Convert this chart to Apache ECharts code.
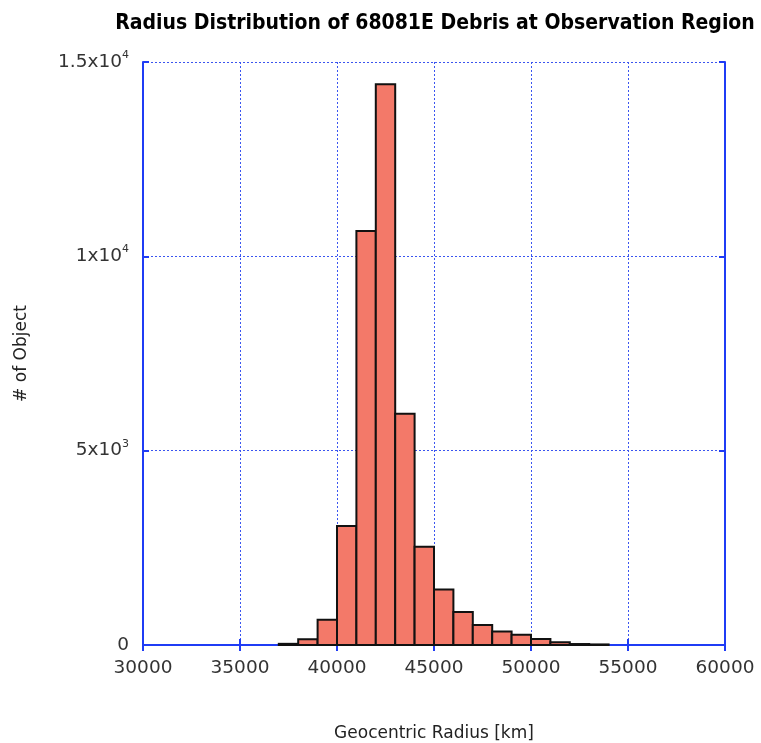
<!DOCTYPE html>
<html>
<head>
<meta charset="utf-8">
<script src="https://cdn.jsdelivr.net/npm/echarts@6/dist/echarts.min.js"></script>
<style>
  html, body { margin: 0; padding: 0; background: #ffffff; }
  #chart { width: 761px; height: 743px; }
</style>
</head>
<body>
<div id="chart"></div>
<script>
// Histogram bins (geocentric radius, km) and object counts per bin
const binStarts = [37000, 38000, 39000, 40000, 41000, 42000, 43000, 44000, 45000,
                   46000, 47000, 48000, 49000, 50000, 51000, 52000, 53000];
const binWidth = 1000;
const counts = [30, 150, 650, 3060, 10650, 14430, 5950, 2530, 1430,
                850, 515, 350, 265, 155, 70, 25, 15];

// Axis tick values and labels
const yTickValues = [0, 5000, 10000, 15000];
const yTickLabels = ['0', '5x10{sup|3}', '1x10{sup|4}', '1.5x10{sup|4}'];

const titleText = 'Radius Distribution of 68081E Debris at Observation Region';
const xTitle = 'Geocentric Radius [km]';
const yTitle = '# of Object';

const blue = '#1f3cf5';
const gridBlue = '#3a55f0';
const barFill = '#f37969';
const labelFont = 'DejaVu Sans';

const histData = binStarts.map((s, i) => [s, s + binWidth, counts[i]]);

const chart = echarts.init(document.getElementById('chart'), null, { renderer: 'canvas' });

const commonX = { type: 'value', min: 30000, max: 60000, interval: 5000 };
const commonY = { type: 'value', min: 0, max: 15000, interval: 5000 };

chart.setOption({
  animation: false,
  backgroundColor: '#ffffff',
  title: {
    text: titleText,
    left: 430, top: 8, textAlign: 'center',
    textStyle: {
      fontFamily: 'Liberation Sans Narrow, DejaVu Sans Condensed, sans-serif',
      fontWeight: 'bold', fontSize: 21, color: '#000'
    }
  },
  grid: { left: 143, right: 36, top: 62, bottom: 98, show: false, outerBoundsMode: 'none', containLabel: false },
  xAxis: [
    Object.assign({}, commonX, {
      position: 'bottom',
      name: xTitle, nameLocation: 'middle', nameGap: 80,
      nameTextStyle: { fontFamily: labelFont, fontSize: 17, color: '#222' },
      axisLine: { show: true, lineStyle: { color: blue, width: 2 } },
      axisTick: { show: true, inside: true, length: 6, lineStyle: { color: blue, width: 2 } },
      axisLabel: { fontFamily: labelFont, fontSize: 18.5, color: '#333', margin: 14,
                   formatter: v => String(v) },
      splitLine: { show: true, lineStyle: { color: gridBlue, type: [2, 2], width: 1 } }
    }),
    Object.assign({}, commonX, {
      position: 'top',
      axisLine: { show: true, lineStyle: { color: blue, width: 2 } },
      axisTick: { show: true, inside: true, length: 6, lineStyle: { color: blue, width: 2 } },
      axisLabel: { show: false },
      splitLine: { show: false }
    })
  ],
  yAxis: [
    Object.assign({}, commonY, {
      position: 'left',
      name: yTitle, nameLocation: 'middle', nameGap: 113, nameRotate: 90,
      nameTextStyle: { fontFamily: labelFont, fontSize: 17, color: '#222' },
      axisLine: { show: true, lineStyle: { color: blue, width: 2 } },
      axisTick: { show: true, inside: true, length: 6, lineStyle: { color: blue, width: 2 } },
      axisLabel: {
        fontFamily: labelFont, fontSize: 18.5, color: '#333', margin: 14,
        formatter: v => yTickLabels[yTickValues.indexOf(v)] || '',
        rich: {
          sup: { fontFamily: labelFont, fontSize: 11, color: '#333', padding: [0, 0, 14, 0] }
        }
      },
      splitLine: { show: true, lineStyle: { color: gridBlue, type: [2, 2], width: 1 } }
    }),
    Object.assign({}, commonY, {
      position: 'right',
      axisLine: { show: true, lineStyle: { color: blue, width: 2 } },
      axisTick: { show: true, inside: true, length: 6, lineStyle: { color: blue, width: 2 } },
      axisLabel: { show: false },
      splitLine: { show: false }
    })
  ],
  series: [{
    type: 'custom',
    xAxisIndex: 0, yAxisIndex: 0,
    data: histData,
    encode: { x: [0, 1], y: 2 },
    z: 3,
    renderItem: function (params, api) {
      const p0 = api.coord([api.value(0), 0]);
      const p1 = api.coord([api.value(1), api.value(2)]);
      return {
        type: 'rect',
        shape: { x: p0[0], y: p1[1], width: p1[0] - p0[0], height: p0[1] - p1[1] },
        style: { fill: barFill, stroke: '#111', lineWidth: 2 }
      };
    }
  }]
});
</script>
</body>
</html>
